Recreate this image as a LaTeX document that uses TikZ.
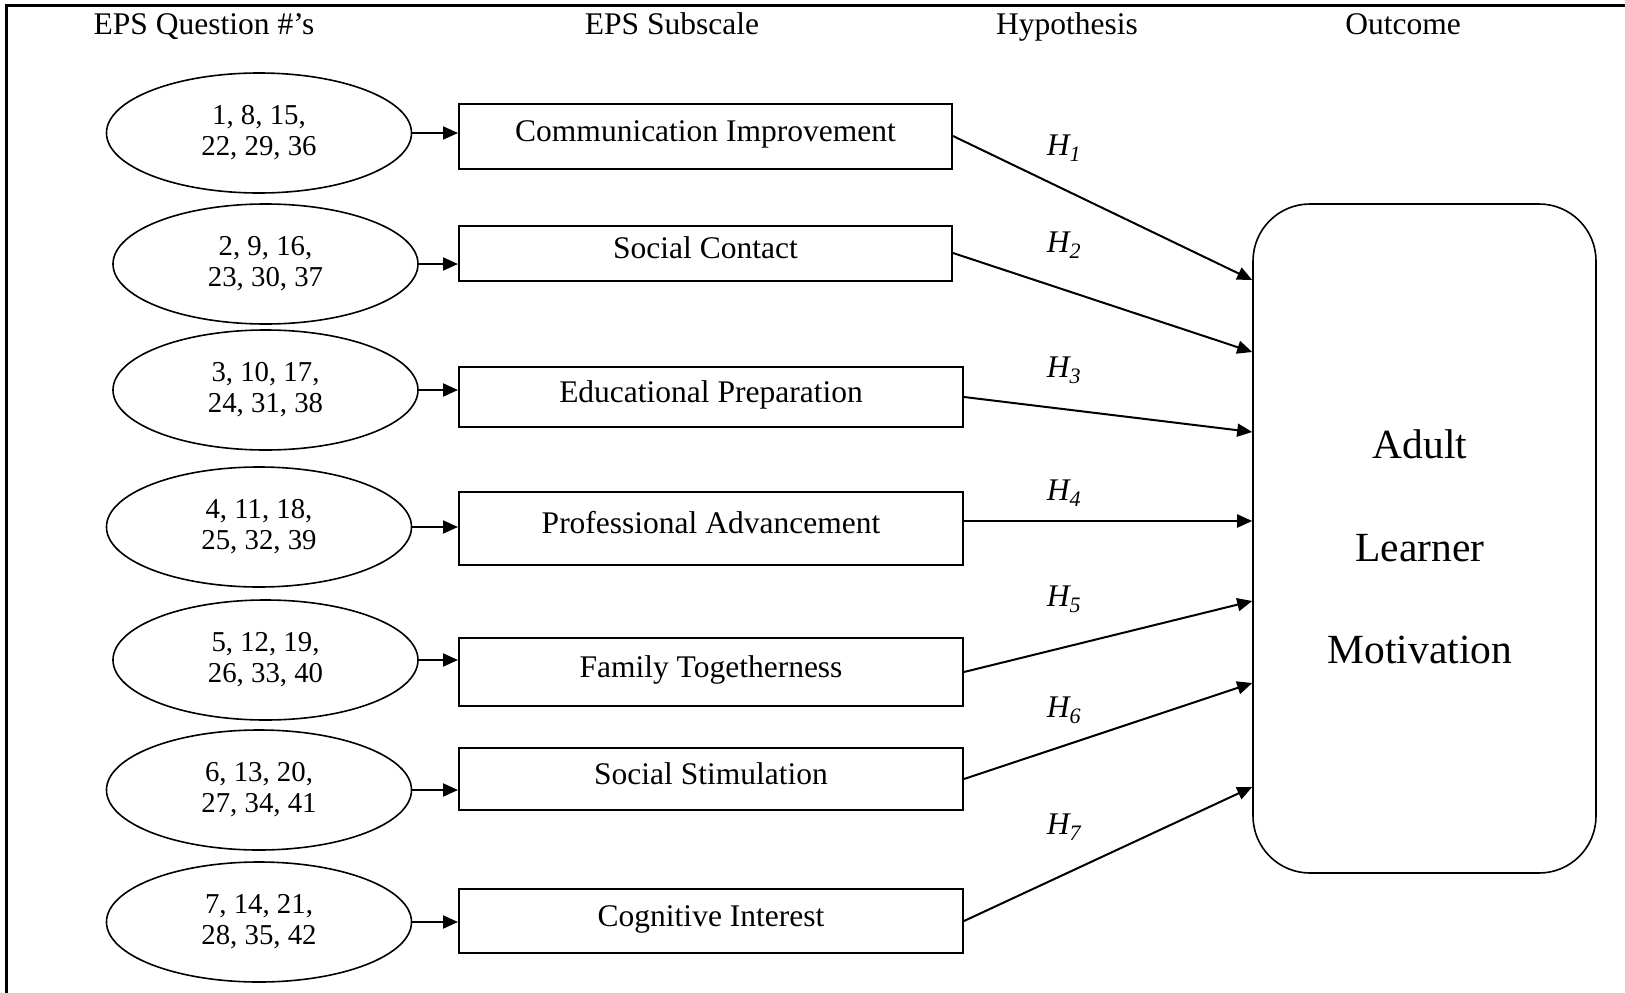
\documentclass[tikz,border=0pt]{standalone}
\usepackage{fontspec}
\setmainfont{Liberation Serif}
\usetikzlibrary{arrows.meta,shapes.geometric}

\begin{document}
\begin{tikzpicture}[x=1pt, y=-1pt,
	  head/.style={ anchor=base, font=\fontsize{31.5}{36}\selectfont },
	  items/.style={ draw, ellipse, line width=1.6pt, minimum width=305pt, minimum height=120pt, inner sep=0pt, align=center, font=\fontsize{28.8}{31}\selectfont },
	  subscale/.style={ draw, line width=2pt, inner sep=0pt, text height=22pt, text depth=12pt, font=\fontsize{31.5}{36}\selectfont },
	  outcome/.style={ draw, line width=1.6pt, rounded corners=57pt, minimum width=343pt, minimum height=669pt },
	  outtext/.style={ align=center, font=\fontsize{41.5}{102.5}\selectfont },
	  hyp/.style={ font=\fontsize{31.5}{36}\selectfont\itshape },
	  arr/.style={ line width=2pt, -{Triangle[length=15pt,width=13pt]} }]
	  \useasboundingbox (0,0) rectangle (1625,993);
	  \draw [ line width=3pt ] (6,993)--(6,5)--(1625,5);

	  \node [ head ] (hq) at (204,34) {EPS Question \#’s};
	  \node [ head ] (hs) at (672,34) {EPS Subscale};
	  \node [ head ] (hh) at (1067,34) {Hypothesis};
	  \node [ head ] (ho) at (1403,34) {Outcome};

	  \node [ items ] (q1) at (259,133) {1, 8, 15,\\22, 29, 36};
	  \node [ items ] (q2) at (265.5,264) {2, 9, 16,\\23, 30, 37};
	  \node [ items ] (q3) at (265.5,390) {3, 10, 17,\\24, 31, 38};
	  \node [ items ] (q4) at (259,527) {4, 11, 18,\\25, 32, 39};
	  \node [ items ] (q5) at (265.5,660) {5, 12, 19,\\26, 33, 40};
	  \node [ items ] (q6) at (259,790) {6, 13, 20,\\27, 34, 41};
	  \node [ items ] (q7) at (259,922) {7, 14, 21,\\28, 35, 42};

	  \node [ subscale, minimum width=493pt, minimum height=65pt ] (s1) at (705.5,136) {Communication Improvement};
	  \node [ subscale, minimum width=493pt, minimum height=55pt ] (s2) at (705.5,253) {Social Contact};
	  \node [ subscale, minimum width=504pt, minimum height=60pt ] (s3) at (711,397) {Educational Preparation};
	  \node [ subscale, minimum width=504pt, minimum height=73pt ] (s4) at (711,528) {Professional Advancement};
	  \node [ subscale, minimum width=504pt, minimum height=68pt ] (s5) at (711,672) {Family Togetherness};
	  \node [ subscale, minimum width=504pt, minimum height=62pt ] (s6) at (711,779) {Social Stimulation};
	  \node [ subscale, minimum width=504pt, minimum height=64pt ] (s7) at (711,921) {Cognitive Interest};

	  \node [ outcome ] (out) at (1424.5,538.5) {};
	  \node [ outtext ] (motiv) at (1420,547) {Adult\\Learner\\Motivation};

	  \coordinate (h1) at (out.west |- 0,280);
	  \coordinate (h2) at (out.west |- 0,352);
	  \coordinate (h3) at (out.west |- 0,432);
	  \coordinate (h4) at (out.west |- 0,521);
	  \coordinate (h5) at (out.west |- 0,601);
	  \coordinate (h6) at (out.west |- 0,683);
	  \coordinate (h7) at (out.west |- 0,787);

	  \draw [ arr ] (q1.east)--(q1.east -| s1.west);
	  \draw [ arr ] (q2.east)--(q2.east -| s2.west);
	  \draw [ arr ] (q3.east)--(q3.east -| s3.west);
	  \draw [ arr ] (q4.east)--(q4.east -| s4.west);
	  \draw [ arr ] (q5.east)--(q5.east -| s5.west);
	  \draw [ arr ] (q6.east)--(q6.east -| s6.west);
	  \draw [ arr ] (q7.east)--(q7.east -| s7.west);

	  \draw [ arr ] (s1.east)--(h1);
	  \draw [ arr ] (s2.east)--(h2);
	  \draw [ arr ] (s3.east)--(h3);
	  \draw [ arr ] (s4.east |- h4)--(h4);
	  \draw [ arr ] (s5.east)--(h5);
	  \draw [ arr ] (s6.east)--(h6);
	  \draw [ arr ] (s7.east)--(h7);

	  \node [ hyp ] (l1) at (1064,148) {H\textsubscript{1}};
	  \node [ hyp ] (l2) at (1064,245) {H\textsubscript{2}};
	  \node [ hyp ] (l3) at (1064,370) {H\textsubscript{3}};
	  \node [ hyp ] (l4) at (1064,493) {H\textsubscript{4}};
	  \node [ hyp ] (l5) at (1064,599) {H\textsubscript{5}};
	  \node [ hyp ] (l6) at (1064,710) {H\textsubscript{6}};
	  \node [ hyp ] (l7) at (1064,827) {H\textsubscript{7}};

	\end{tikzpicture}
\end{document}
